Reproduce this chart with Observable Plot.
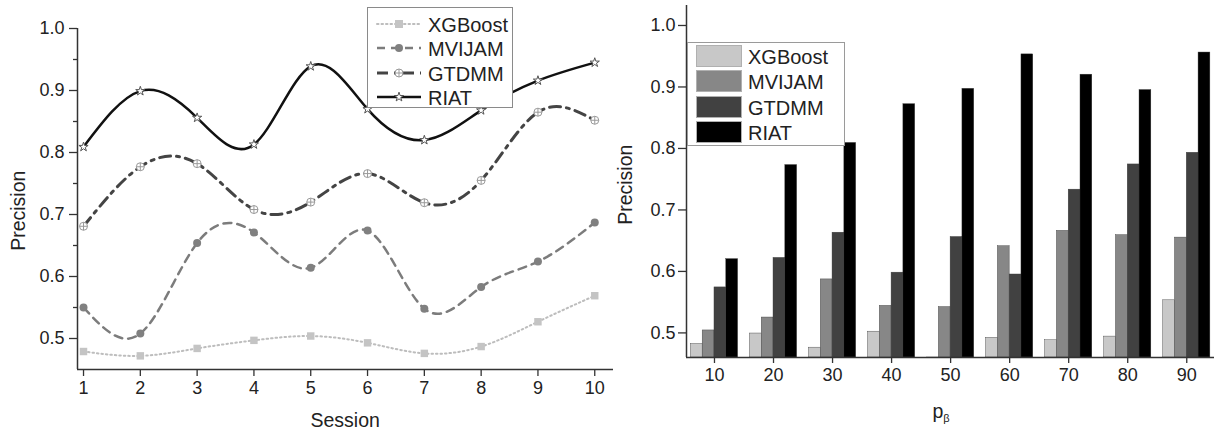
<!DOCTYPE html>
<html>
<head>
<meta charset="utf-8">
<script src="https://cdn.jsdelivr.net/npm/d3@7"></script>
<script src="https://cdn.jsdelivr.net/npm/@observablehq/plot@0.6"></script>
<style>
  body { margin: 0; background: #fff; font-family: "Liberation Sans", Arial, sans-serif; }
  #wrap { position: relative; width: 1214px; height: 432px; overflow: hidden; background: #fff; }
  #left { position: absolute; left: 0; top: 0; }
  #right { position: absolute; left: 614px; top: 0; }
  .title { position: absolute; font-size: 19.5px; color: #222; white-space: nowrap; line-height: 1; }
  .legend { position: absolute; box-sizing: border-box; border: 1px solid #8a8a8a; background: #fff; }
  .row { position: absolute; left: 0; height: 24px; display: flex; align-items: center; }
  .row span { position: absolute; font-size: 20px; color: #222; line-height: 1; white-space: nowrap; }
</style>
</head>
<body>
<div id="wrap">
  <div id="left"></div>
  <div id="right"></div>
</div>
<script>
// ---------- data ----------
const methods = ["XGBoost", "MVIJAM", "GTDMM", "RIAT"];

// left chart: precision per session
const sessions = [1, 2, 3, 4, 5, 6, 7, 8, 9, 10];
const lineXGBoost = [0.479, 0.472, 0.484, 0.497, 0.504, 0.493, 0.476, 0.487, 0.527, 0.569];
const lineMVIJAM  = [0.550, 0.508, 0.654, 0.671, 0.614, 0.674, 0.548, 0.583, 0.624, 0.687];
const lineGTDMM   = [0.681, 0.777, 0.782, 0.708, 0.720, 0.766, 0.719, 0.755, 0.865, 0.852];
const lineRIAT    = [0.809, 0.899, 0.856, 0.813, 0.939, 0.870, 0.820, 0.868, 0.916, 0.945];

// right chart: precision per p_beta
const pBeta = [10, 20, 30, 40, 50, 60, 70, 80, 90];
const barXGBoost = [0.482, 0.499, 0.476, 0.502, 0.455, 0.492, 0.488, 0.494, 0.553];
const barMVIJAM  = [0.504, 0.525, 0.587, 0.544, 0.542, 0.641, 0.666, 0.659, 0.655];
const barGTDMM   = [0.574, 0.622, 0.663, 0.598, 0.656, 0.595, 0.733, 0.774, 0.793];
const barRIAT    = [0.620, 0.773, 0.809, 0.872, 0.897, 0.953, 0.920, 0.895, 0.956];

// ticks
const leftYTicks = [0.5, 0.6, 0.7, 0.8, 0.9, 1.0];
const leftYMinor = [0.55, 0.65, 0.75, 0.85, 0.95];
const rightYTicks = [0.5, 0.6, 0.7, 0.8, 0.9, 1.0];

// ---------- styles ----------
const axisColor = "#333";
const lineStyle = {
  XGBoost: {stroke: "#bdbdbd", strokeWidth: 2, strokeDasharray: "1.5,3", strokeLinecap: "round"},
  MVIJAM:  {stroke: "#7c7c7c", strokeWidth: 2.5, strokeDasharray: "8,6"},
  GTDMM:   {stroke: "#444", strokeWidth: 3, strokeDasharray: "11,6,3,6"},
  RIAT:    {stroke: "#111", strokeWidth: 2.5}
};
const barFill = {XGBoost: "#c8c8c8", MVIJAM: "#878787", GTDMM: "#414141", RIAT: "#000"};

const circlePlus = {
  draw(ctx, size) {
    const r = Math.sqrt(size / Math.PI);
    ctx.moveTo(r, 0);
    ctx.arc(0, 0, r, 0, 2 * Math.PI);
    ctx.moveTo(-r, 0); ctx.lineTo(r, 0);
    ctx.moveTo(0, -r); ctx.lineTo(0, r);
  }
};

const lineSeries = {XGBoost: lineXGBoost, MVIJAM: lineMVIJAM, GTDMM: lineGTDMM, RIAT: lineRIAT};
const lineRows = methods.flatMap(m => sessions.map((s, i) => ({session: s, method: m, value: lineSeries[m][i]})));

const starR = 2.9;
const markerMarks = [
  Plot.dot(lineRows.filter(d => d.method === "XGBoost"), {x: "session", y: "value", symbol: "square", r: 4.2, fill: "#c4c4c4", stroke: "none"}),
  Plot.dot(lineRows.filter(d => d.method === "MVIJAM"), {x: "session", y: "value", symbol: "circle", r: 4, fill: "#808080", stroke: "none"}),
  Plot.dot(lineRows.filter(d => d.method === "GTDMM"), {x: "session", y: "value", symbol: circlePlus, r: 4, fill: "#fff", stroke: "#9a9a9a", strokeWidth: 1}),
  Plot.dot(lineRows.filter(d => d.method === "RIAT"), {x: "session", y: "value", symbol: "star", r: starR, fill: "#fff", stroke: "#555", strokeWidth: 1})
];

const leftX = [0.894, 10.33];
const leftY = [0.45, 1.0];

const left = Plot.plot({
  width: 614, height: 432,
  marginLeft: 77, marginRight: 1, marginTop: 28, marginBottom: 63,
  x: {domain: leftX},
  y: {domain: leftY},
  style: {fontFamily: "'Liberation Sans', Arial, sans-serif", fontSize: "18px", color: "#222", background: "transparent"},
  marks: [
    Plot.axisY({ticks: leftYTicks, tickSize: 8, tickPadding: 5, tickFormat: d3.format(".1f"), label: null, stroke: axisColor, strokeWidth: 1.3}),
    Plot.axisY({ticks: leftYMinor, tickSize: 4, tickFormat: () => "", label: null, stroke: axisColor, strokeWidth: 1.3}),
    Plot.axisX({ticks: sessions, tickSize: 7, tickPadding: 5, label: null, stroke: axisColor, strokeWidth: 1.3}),
    ...methods.map(m => Plot.line(lineRows.filter(d => d.method === m), {x: "session", y: "value", curve: "natural", ...lineStyle[m]})),
    ...markerMarks,
    Plot.ruleX([leftX[0]], {stroke: axisColor, strokeWidth: 1.5}),
    Plot.ruleY([leftY[0]], {stroke: axisColor, strokeWidth: 1.5})
  ]
});
document.getElementById("left").appendChild(left);

// ---------- right chart ----------
const barSeries = {XGBoost: barXGBoost, MVIJAM: barMVIJAM, GTDMM: barGTDMM, RIAT: barRIAT};
const barUnit = 2; // width of one bar in p units
const rightX = [5.26, 94.7];
const rightY = [0.46, 1.0325];
const barRows = methods.flatMap((m, j) => pBeta.map((p, i) => ({
  p, method: m, value: barSeries[m][i],
  x1: p + (j - 2) * barUnit, x2: p + (j - 1) * barUnit
})));

const right = Plot.plot({
  width: 600, height: 432,
  marginLeft: 72, marginRight: 0, marginTop: 5, marginBottom: 75,
  x: {domain: rightX},
  y: {domain: rightY},
  style: {fontFamily: "'Liberation Sans', Arial, sans-serif", fontSize: "18px", color: "#222", background: "transparent"},
  marks: [
    Plot.rect(barRows, {x1: "x1", x2: "x2", y1: () => rightY[0], y2: "value", fill: d => barFill[d.method], stroke: "#3a3a3a", strokeWidth: 0.4, clip: true}),
    Plot.axisY({ticks: rightYTicks, tickSize: 8, tickPadding: 3, tickFormat: d3.format(".1f"), label: null, stroke: axisColor, strokeWidth: 1.3}),
    Plot.axisX({ticks: pBeta, tickSize: 6, tickPadding: 5, label: null, stroke: axisColor, strokeWidth: 1.3}),
    Plot.ruleX([rightX[0]], {stroke: axisColor, strokeWidth: 1.5}),
    Plot.ruleY([rightY[0]], {stroke: axisColor, strokeWidth: 1.5})
  ]
});
document.getElementById("right").appendChild(right);

// ---------- titles ----------
const wrap = document.getElementById("wrap");
function addTitle(html, cx, cy, rotate) {
  const d = document.createElement("div");
  d.className = "title";
  d.innerHTML = html;
  wrap.appendChild(d);
  const w = d.offsetWidth, h = d.offsetHeight;
  d.style.left = (cx - w / 2) + "px";
  d.style.top = (cy - h / 2) + "px";
  if (rotate) d.style.transform = "rotate(-90deg)";
  return d;
}
addTitle("Precision", 19, 211, true);
addTitle("Session", 345, 421, false);
addTitle("Precision", 626, 185, true);
addTitle('p<sub style="font-size:11px;vertical-align:-4px">β</sub>', 941, 413, false);

// ---------- left legend ----------
const legL = document.createElement("div");
legL.className = "legend";
Object.assign(legL.style, {left: "367px", top: "7px", width: "146px", height: "101px"});
wrap.appendChild(legL);
const symPath = {
  XGBoost: '<rect x="19" y="7" width="8" height="8" fill="#c4c4c4"/>',
  MVIJAM: '<circle cx="23" cy="11" r="4" fill="#808080"/>',
  GTDMM: '<circle cx="23" cy="11" r="4" fill="#fff" stroke="#9a9a9a"/><path d="M19,11H27M23,7V15" stroke="#9a9a9a" fill="none"/>',
  RIAT: '<path transform="translate(23,11)" d="' + d3.symbol(d3.symbolStar, Math.PI * starR * starR)() + '" fill="#fff" stroke="#555"/>'
};
methods.forEach((m, i) => {
  const row = document.createElement("div");
  row.className = "row";
  row.style.top = (4 + i * 24.3) + "px";
  const st = lineStyle[m];
  row.innerHTML = `<svg width="48" height="22" style="position:absolute;left:8px;top:1px">
      <line x1="1" y1="11" x2="45" y2="11" stroke="${st.stroke}" stroke-width="${st.strokeWidth}" ${st.strokeDasharray ? `stroke-dasharray="${st.strokeDasharray}"` : ""} stroke-linecap="${st.strokeLinecap || "butt"}"/>
      ${symPath[m]}
    </svg><span style="left:60px;top:3px">${m}</span>`;
  legL.appendChild(row);
});

// ---------- right legend ----------
const legR = document.createElement("div");
legR.className = "legend";
Object.assign(legR.style, {left: "687px", top: "42px", width: "158px", height: "104px", borderColor: "#9a9a9a"});
wrap.appendChild(legR);
methods.forEach((m, i) => {
  const row = document.createElement("div");
  row.className = "row";
  row.style.top = (2 + i * 25.3) + "px";
  row.innerHTML = `<div style="position:absolute;left:8px;top:0;width:46px;height:22px;box-sizing:border-box;background:${barFill[m]};border:1px solid #b0b0b0"></div><span style="left:60px;top:2px">${m}</span>`;
  legR.appendChild(row);
});
</script>
</body>
</html>
